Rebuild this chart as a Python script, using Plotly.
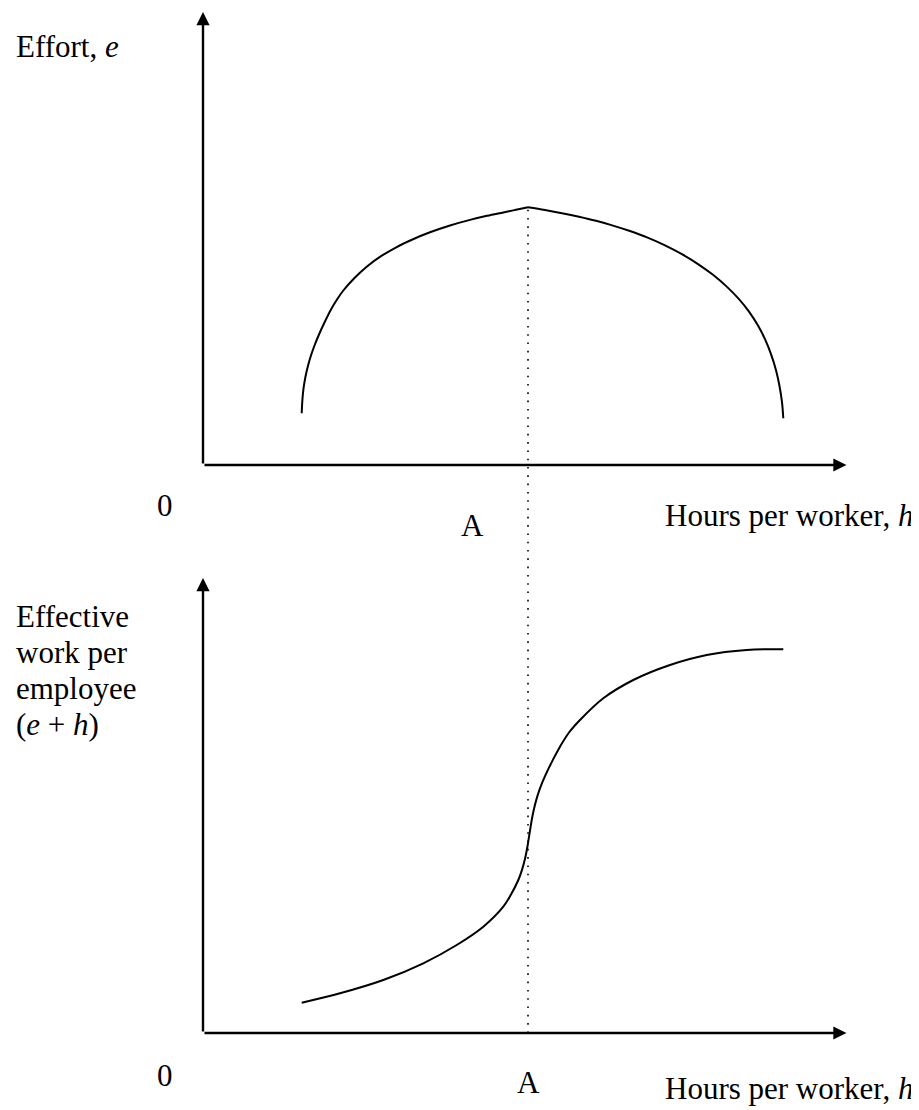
import plotly.graph_objects as go

# upper panel: effort against hours per worker (kinked at A)
hours_left = [3.037, 3.058, 3.095, 3.151, 3.225, 3.317, 3.431, 3.569, 3.738, 3.938,
              4.123, 4.317, 4.646, 5.037, 5.477, 5.960, 6.462, 6.985, 7.600, 8.215,
              8.738, 9.240, 9.631, 10.0]
effort_left = [1.141, 1.435, 1.700, 1.943, 2.174, 2.406, 2.638, 2.881, 3.146, 3.433,
               3.653, 3.852, 4.117, 4.377, 4.609, 4.812, 4.984, 5.137, 5.287, 5.411,
               5.501, 5.576, 5.634, 5.69]
hours_right = [10.0, 10.523, 11.046, 11.569, 12.092, 12.615, 13.138, 13.662, 14.185,
               14.708, 15.231, 15.692, 16.123, 16.492, 16.800, 17.077, 17.292, 17.477,
               17.631, 17.738, 17.815, 17.855]
effort_right = [5.69, 5.630, 5.559, 5.480, 5.390, 5.285, 5.164, 5.026, 4.860,
                4.665, 4.436, 4.198, 3.932, 3.662, 3.386, 3.078, 2.777, 2.446,
                2.093, 1.745, 1.386, 1.031]

# lower panel: effective work per employee (e + h)
hours_eff = [3.037, 4.215, 5.548, 6.778, 7.806, 8.625, 9.240, 9.477, 9.702, 9.815,
             9.908, 9.985, 10.046, 10.108, 10.185, 10.277, 10.369, 10.523, 10.738,
             10.985, 11.262, 11.600, 12.317, 13.240, 14.369, 15.498, 16.729, 17.855]
effective = [0.666, 0.873, 1.165, 1.532, 1.934, 2.336, 2.776, 3.044, 3.363, 3.586,
             3.829, 4.105, 4.379, 4.654, 4.929, 5.179, 5.378, 5.644, 5.965,
             6.292, 6.604, 6.879, 7.356, 7.758, 8.088, 8.308, 8.418, 8.433]

A_HOURS = 10.0
PEAK_EFFORT = 5.69
X_TIP = 19.8
Y_TIP = 10.0

ylabel_lines = ["Effective", "work per", "employee", "(<i>e</i> + <i>h</i>)"]

FONT = dict(family="Liberation Serif, Times New Roman, serif", size=31, color="black")
W, H = 919, 1110
OFF = 8  # page body margin

top_dom = [1 - (465 - OFF) / H, 1.0]
bot_dom = [1 - (1033 - OFF) / H, 1 - (540 - OFF) / H]
top_range = [0, (465 - OFF) / 45.3]
bot_range = [0, (1033 - 540) / 45.5]
x_range = [0, (W - 203 + OFF) / 32.5]

fig = go.Figure()
line = dict(color="black", width=2)
fig.add_trace(go.Scatter(x=hours_left, y=effort_left, mode="lines", line_shape="spline",
                         line=line, xaxis="x", yaxis="y"))
fig.add_trace(go.Scatter(x=hours_right, y=effort_right, mode="lines", line_shape="spline",
                         line=line, xaxis="x", yaxis="y"))
fig.add_trace(go.Scatter(x=hours_eff, y=effective, mode="lines", line_shape="spline",
                         line=line, xaxis="x2", yaxis="y2"))

# axes with arrow heads
anns = []
for xa, ya in [("x", "y"), ("x2", "y2")]:
    anns.append(dict(x=X_TIP, y=0, ax=0, ay=0, xref=xa, yref=ya, axref=xa, ayref=ya,
                     text="", showarrow=True, arrowhead=2, arrowsize=1.1, arrowwidth=2.4,
                     arrowcolor="black"))
    anns.append(dict(x=0, y=Y_TIP, ax=0, ay=0, xref=xa, yref=ya, axref=xa, ayref=ya,
                     text="", showarrow=True, arrowhead=2, arrowsize=1.1, arrowwidth=2.4,
                     arrowcolor="black"))

def label(text, px, py, xanchor="center", yanchor="middle"):
    anns.append(dict(text=text, x=(px - OFF) / W, y=1 - (py - OFF) / H,
                     xref="paper", yref="paper", xanchor=xanchor, yanchor=yanchor,
                     showarrow=False, font=FONT))

label("Effort, <i>e</i>", 14, 47, xanchor="left")
label("0", 165, 505)
label("A", 472, 525)
label("Hours per worker, <i>h</i>", 915, 515, xanchor="right")
for i, t in enumerate(ylabel_lines):
    label(t, 14, 616 + 36 * i, xanchor="left")
label("0", 165, 1075)
label("A", 528, 1082)
label("Hours per worker, <i>h</i>", 915, 1088, xanchor="right")

# dotted guide from the peak of effort down to the lower axis
peak_paper = top_dom[0] + PEAK_EFFORT / top_range[1] * (top_dom[1] - top_dom[0])
shapes = [dict(type="line", xref="x", yref="paper", x0=A_HOURS, x1=A_HOURS,
               y0=bot_dom[0], y1=peak_paper,
               line=dict(color="black", width=1.6, dash="1.6px,6.7px"))]

fig.update_layout(
    width=W, height=H, margin=dict(l=0, r=0, t=0, b=0),
    paper_bgcolor="white", plot_bgcolor="white", showlegend=False,
    xaxis=dict(domain=[(203 - OFF) / W, 1], range=x_range, visible=False),
    yaxis=dict(domain=top_dom, range=top_range, visible=False),
    xaxis2=dict(domain=[(203 - OFF) / W, 1], range=x_range, visible=False, anchor="y2"),
    yaxis2=dict(domain=bot_dom, range=bot_range, visible=False, anchor="x2"),
    annotations=anns, shapes=shapes,
)
fig.write_html("out.html")
